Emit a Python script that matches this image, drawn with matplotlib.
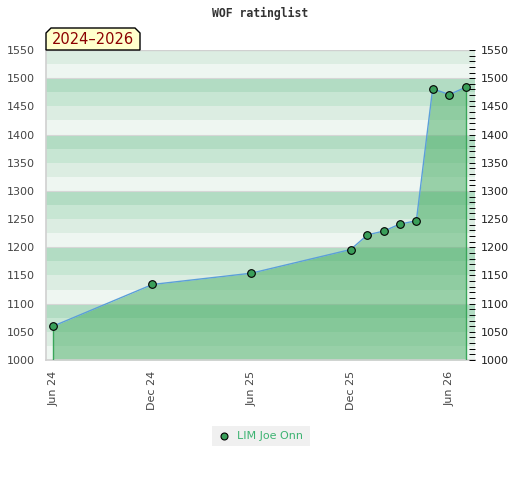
import datetime as dt
import numpy as np
import matplotlib
matplotlib.use("Agg")
import matplotlib.pyplot as plt
import matplotlib.dates as mdates
from matplotlib.patches import Polygon
from matplotlib.ticker import MultipleLocator

# rating per month
months = ["2024-06", "2024-12", "2025-06", "2025-12", "2026-01", "2026-02",
          "2026-03", "2026-04", "2026-05", "2026-06", "2026-07"]
ratings = [1060, 1134, 1154, 1196, 1222, 1229, 1241, 1247, 1481, 1471, 1484]
player = "LIM Joe Onn"
period = "2024\u20132026"
tick_months = ["2024-06", "2024-12", "2025-06", "2025-12", "2026-06"]
ymin, ymax = 1000, 1550

dates = [dt.datetime.strptime(m, "%Y-%m") for m in months]
xd = mdates.date2num(dates)
ticks = mdates.date2num([dt.datetime.strptime(m, "%Y-%m") for m in tick_months])

fig = plt.figure(figsize=(5.2, 4.8), dpi=100)
ax = fig.add_axes([46 / 520, 1 - 360 / 480, 429 / 520, 310 / 480])

xlo, xhi = xd[0] - 13, xd[-1] + 17
ax.set_xlim(xlo, xhi)
ax.set_ylim(ymin, ymax)

# striped background, period 100, four bands of 25
band_cols = ["#eef6f1", "#dcede2", "#c7e6d3", "#b2dcc3"]
for k, y0 in enumerate(range(ymin, ymax, 25)):
    ax.axhspan(y0, y0 + 25, color=band_cols[k % 4], lw=0, zorder=0)
for y in range(1100, ymax, 100):
    ax.axhline(y, color="#d6d6d6", lw=0.8, zorder=1)

# filled area under the line
ax.fill_between(xd, ratings, ymin, color="#44ac61", alpha=0.5, lw=0, zorder=2)
ax.plot([xd[0], xd[0]], [ymin, ratings[0]], color="#3aa65a", lw=1, zorder=3)
ax.plot([xd[-1], xd[-1]], [ymin, ratings[-1]], color="#3aa65a", lw=1, zorder=3)
ax.plot(xd, ratings, color="#5b9fd8", lw=1.0, zorder=4)
ax.plot(xd, ratings, ls="none", marker="o", ms=5.5, mfc="#3a9f5a",
        mec="black", mew=0.8, zorder=5)

for side in ["top", "right"]:
    ax.spines[side].set_visible(False)
for side in ["left", "bottom"]:
    ax.spines[side].set_color("#d0d0d0")
    ax.spines[side].set_linewidth(1.2)
ax.axhline(ymax, color="#d0d0d0", lw=1, zorder=1)

ax.yaxis.set_major_locator(MultipleLocator(50))
ax.tick_params(axis="y", length=0, labelsize=8, labelcolor="#444444", pad=8)
ax.set_xticks(ticks)
ax.set_xticklabels([mdates.num2date(t).strftime("%b %y") for t in ticks],
                   rotation=90)
ax.tick_params(axis="x", length=0, labelsize=8, labelcolor="#444444", pad=8)

ax2 = ax.twinx()
ax2.set_ylim(ymin, ymax)
ax2.yaxis.set_major_locator(MultipleLocator(50))
ax2.yaxis.set_minor_locator(MultipleLocator(10))
ax2.tick_params(axis="y", which="both", direction="in", length=4.5, width=0.7,
                color="black", labelsize=8, labelcolor="#222222", pad=4)
for s in ax2.spines.values():
    s.set_visible(False)

fig.text(0.5, 1 - 13 / 480, "WOF ratinglist", ha="center", va="center",
         family="DejaVu Sans Mono", weight="bold", fontsize=8.3, color="#333333")

# yellow period tag with clipped top corners
x0, x1 = 46 / 520, 140 / 520
y0, y1 = 1 - 50 / 480, 1 - 28 / 480
cx, cy = 5 / 520, 5 / 480
tag = Polygon([(x0, y0), (x0, y1 - cy), (x0 + cx, y1), (x1 - cx, y1),
               (x1, y1 - cy), (x1, y0)], closed=True, transform=fig.transFigure,
              fc="#ffffcc", ec="black", lw=1, zorder=10)
fig.add_artist(tag)
fig.text((x0 + x1) / 2, (y0 + y1) / 2 - 1 / 480, period, ha="center",
         va="center", fontsize=10.5, color="#8b0000", zorder=11)

# legend
lx0, lx1 = 212 / 520, 310 / 520
ly0, ly1 = 1 - 446 / 480, 1 - 426 / 480
fig.add_artist(plt.Rectangle((lx0, ly0), lx1 - lx0, ly1 - ly0,
                             transform=fig.transFigure, fc="#f0f0f0", lw=0))
fig.add_artist(plt.Line2D([224 / 520], [(ly0 + ly1) / 2], marker="o", ms=5,
                          mfc="#3a9f5a", mec="black", mew=0.8,
                          transform=fig.transFigure))
fig.text(237 / 520, (ly0 + ly1) / 2, player, ha="left", va="center",
         fontsize=8, color="#3cb371")

fig.savefig("out.png", dpi=100)
